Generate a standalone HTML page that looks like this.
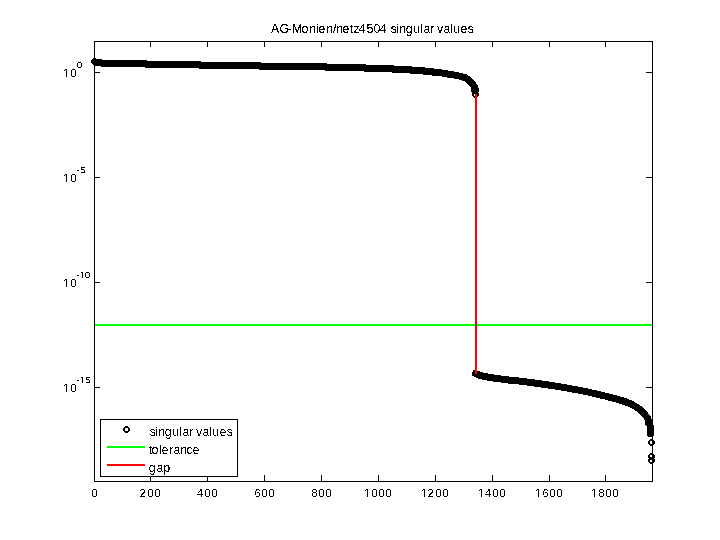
<!DOCTYPE html>
<html><head><meta charset="utf-8"><title>AG-Monien/netz4504 singular values</title>
<style>html,body{margin:0;padding:0;background:#fff;width:720px;height:540px;overflow:hidden}svg{display:block}</style>
</head><body>
<svg width="720" height="540" viewBox="0 0 720 540">
<defs><filter id="bin" filterUnits="userSpaceOnUse" x="0" y="0" width="720" height="540" color-interpolation-filters="sRGB"><feComponentTransfer><feFuncA type="discrete" tableValues="0 1"/></feComponentTransfer></filter><filter id="bin2" filterUnits="userSpaceOnUse" x="0" y="0" width="720" height="540" color-interpolation-filters="sRGB"><feComponentTransfer><feFuncA type="discrete" tableValues="0 0 0 0 0 0 0 0 0 1 1 1 1 1 1 1 1 1 1 1"/></feComponentTransfer></filter></defs>
<rect width="720" height="540" fill="#fff"/>
<rect x="94" y="324" width="558" height="2" fill="#00ff00"/>
<polyline points="94.5,61.5 96,62.5 99.5,62.5 103,63.5 145.5,63.5 146.5,64.5 199.5,64.5 200.5,65.5 259.5,65.5 260.5,66.5 325.5,66.5 326.5,67.5 364.5,67.5 365.5,68.5 392.5,68.5 393.5,69.5 410,69.5 412,70.5 423,70.5 425,71.5 432,71.5 434,72.5 440,72.5 444,73.5 451,74.5 456,75.3 461,76.5 465,77.6 468,79.5 473.5,85.3 475,88 475.3,90.5 474.6,90.5 474.6,88" fill="none" stroke="#000" stroke-width="7" stroke-linejoin="round" stroke-linecap="round" shape-rendering="crispEdges"/>
<polyline points="475.5,373.5 480,375.5 485,376.5 490,377.5 497,378.5 505,379.5 512,380.5 515,380.5 523,381.5 531,382.5 538,383.5 545,384.5 552,385.5 558,386.5 566,387.8 572,389 577,389.8 582,390.8 588,392 592,393 596,393.8 600,394.8 605,396 612,397.8 620,400 626,402 631,404 635,406.3 637,407.5 640,409.5 643,412 645,415 646.5,416.5 648,418.5 648,422.5 649.5,424 650.5,426.5 650.5,433.5" fill="none" stroke="#000" stroke-width="7" stroke-linejoin="round" stroke-linecap="round" shape-rendering="crispEdges"/>
<path d="M94.5,61.5 96,62.5 99.5,62.5 103,63.5 145.5,63.5 146.5,64.5 199.5,64.5 200.5,65.5 259.5,65.5 260.5,66.5 325.5,66.5 326.5,67.5 364.5,67.5 365.5,68.5 392.5,68.5 393.5,69.5 410,69.5 412,70.5 423,70.5 425,71.5 432,71.5 434,72.5 440,72.5 444,73.5 451,74.5 456,75.3 461,76.5 465,77.6 468,79.5 473.5,85.3 475,88 475.3,90.5 474.6,90.5 474.6,88M475.5,373.5 480,375.5 485,376.5 490,377.5 497,378.5 505,379.5 512,380.5 515,380.5 523,381.5 531,382.5 538,383.5 545,384.5 552,385.5 558,386.5 566,387.8 572,389 577,389.8 582,390.8 588,392 592,393 596,393.8 600,394.8 605,396 612,397.8 620,400 626,402 631,404 635,406.3 637,407.5 640,409.5 643,412 645,415 646.5,416.5 648,418.5 648,422.5 649.5,424 650.5,426.5 650.5,433.5" fill="none" stroke="#000" stroke-width="4" stroke-linejoin="round" stroke-linecap="round"/>
<path transform="translate(472 91)" fill="#000" fill-rule="evenodd" d="M2 0H5V1H6V2H7V5H6V6H5V7H2V6H1V5H0V2H1V1H2ZM2 2V5H5V2Z"/>
<path transform="translate(648 439)" fill="#000" fill-rule="evenodd" d="M2 0H5V1H6V2H7V5H6V6H5V7H2V6H1V5H0V2H1V1H2ZM2 2V5H5V2Z"/>
<path transform="translate(648 453)" fill="#000" fill-rule="evenodd" d="M2 0H5V1H6V2H7V5H6V6H5V7H2V6H1V5H0V2H1V1H2ZM2 2V5H5V2Z"/>
<path transform="translate(648 457)" fill="#000" fill-rule="evenodd" d="M2 0H5V1H6V2H7V5H6V6H5V7H2V6H1V5H0V2H1V1H2ZM2 2V5H5V2Z"/>
<rect x="475" y="94" width="2" height="280" fill="#ff0000"/>
<g fill="#000">
<rect x="94" y="41" width="559" height="1"/><rect x="94" y="481" width="559" height="1"/>
<rect x="94" y="41" width="1" height="441"/><rect x="652" y="41" width="1" height="441"/>
<rect x="94" y="475" width="1" height="6"/><rect x="94" y="42" width="1" height="5"/>
<rect x="150" y="475" width="1" height="6"/><rect x="150" y="42" width="1" height="5"/>
<rect x="207" y="475" width="1" height="6"/><rect x="207" y="42" width="1" height="5"/>
<rect x="264" y="475" width="1" height="6"/><rect x="264" y="42" width="1" height="5"/>
<rect x="321" y="475" width="1" height="6"/><rect x="321" y="42" width="1" height="5"/>
<rect x="378" y="475" width="1" height="6"/><rect x="378" y="42" width="1" height="5"/>
<rect x="435" y="475" width="1" height="6"/><rect x="435" y="42" width="1" height="5"/>
<rect x="492" y="475" width="1" height="6"/><rect x="492" y="42" width="1" height="5"/>
<rect x="549" y="475" width="1" height="6"/><rect x="549" y="42" width="1" height="5"/>
<rect x="605" y="475" width="1" height="6"/><rect x="605" y="42" width="1" height="5"/>
<rect x="95" y="72" width="5" height="1"/><rect x="646" y="72" width="6" height="1"/>
<rect x="95" y="177" width="5" height="1"/><rect x="646" y="177" width="6" height="1"/>
<rect x="95" y="282" width="5" height="1"/><rect x="646" y="282" width="6" height="1"/>
<rect x="95" y="387" width="5" height="1"/><rect x="646" y="387" width="6" height="1"/>
</g>
<g font-family='"Liberation Sans", Arial, Helvetica, sans-serif' fill="#000" filter="url(#bin)">
<text x="270.976 279.381 287.453 291.991 301.483 309.183 316.177 318.477 326.183 333 336.183 342.477 349.814 353.502 358.718 366.508 373.52 379.718 386.558 390.658 396.177 399.183 405.733 413.201 420.171 423.477 430.183 434.279 436.958 443.477 450.171 453.201 460.477 467.658" y="33" font-size="12.3" filter="url(#bin2)">AG-Monien/netz4504 singular values</text>
<text x="91.562" y="497" font-size="11.2">0</text>
<text x="139.437 147.562 154.562" y="497" font-size="11.2">200</text>
<text x="196.743 204.562 211.562" y="497" font-size="11.2">400</text>
<text x="254.431 261.562 268.562" y="497" font-size="11.2">600</text>
<text x="311.513 318.562 325.562" y="497" font-size="11.2">800</text>
<text x="364.304 371.562 378.562 385.562" y="497" font-size="11.2">1000</text>
<text x="421.304 427.437 435.562 442.562" y="497" font-size="11.2">1200</text>
<text x="478.304 484.743 492.562 499.562" y="497" font-size="11.2">1400</text>
<text x="535.304 542.431 549.562 556.562" y="497" font-size="11.2">1600</text>
<text x="591.304 598.513 605.562 612.562" y="497" font-size="11.2">1800</text>
<text x="63.304 70.562" y="77" font-size="11.2">10</text>
<text transform="translate(0 68) scale(1.15 1)" x="66.605" y="0" font-size="9">0</text>
<text x="63.304 70.562" y="182" font-size="11.2">10</text>
<text transform="translate(0 173) scale(1.15 1)" x="66.557 69.64" y="0" font-size="9">-5</text>
<text x="63.304 70.562" y="287" font-size="11.2">10</text>
<text transform="translate(0 278) scale(1.15 1)" x="66.557 69.138 73.561" y="0" font-size="9">-10</text>
<text x="63.304 70.562" y="392" font-size="11.2">10</text>
<text transform="translate(0 383) scale(1.15 1)" x="66.557 69.138 73.987" y="0" font-size="9">-15</text>
</g>
<g fill="#fff"><rect x="364" y="496" width="3" height="1"/><rect x="368" y="496" width="3" height="1"/><rect x="421" y="496" width="3" height="1"/><rect x="425" y="496" width="3" height="1"/><rect x="478" y="496" width="3" height="1"/><rect x="482" y="496" width="3" height="1"/><rect x="535" y="496" width="3" height="1"/><rect x="539" y="496" width="3" height="1"/><rect x="591" y="496" width="3" height="1"/><rect x="595" y="496" width="3" height="1"/><rect x="63" y="76" width="3" height="1"/><rect x="67" y="76" width="3" height="1"/><rect x="63" y="181" width="3" height="1"/><rect x="67" y="181" width="3" height="1"/><rect x="63" y="286" width="3" height="1"/><rect x="67" y="286" width="3" height="1"/><rect x="79" y="277" width="3" height="1"/><rect x="83" y="277" width="2" height="1"/><rect x="63" y="391" width="3" height="1"/><rect x="67" y="391" width="3" height="1"/><rect x="79" y="382" width="3" height="1"/><rect x="83" y="382" width="2" height="1"/></g>
<rect x="100.5" y="419.5" width="137" height="57" fill="#fff" stroke="#000" stroke-width="1"/>
<path transform="translate(123 426)" fill="#000" fill-rule="evenodd" d="M2 0H5V1H6V2H7V5H6V6H5V7H2V6H1V5H0V2H1V1H2ZM2 2V5H5V2Z"/>
<rect x="107" y="446" width="38" height="2" fill="#00ff00"/>
<rect x="107" y="464" width="38" height="2" fill="#ff0000"/>
<g font-family='"Liberation Sans", Arial, Helvetica, sans-serif' font-size="12.4" fill="#000" filter="url(#bin)">
<text x="149.655 155.171 158.177 164.729 172.195 179.164 182.473 189.177 193.306 195.958 202.473 209.164 212.195 219.473 226.655" y="436">singular values</text>
<text x="148.812 151.479 159.164 161.473 169.177 173.473 180.177 186.473 192.473" y="454">tolerance</text>
<text x="148.729 156.473 163.201" y="472">gap</text>
</g>
</svg>
</body></html>
